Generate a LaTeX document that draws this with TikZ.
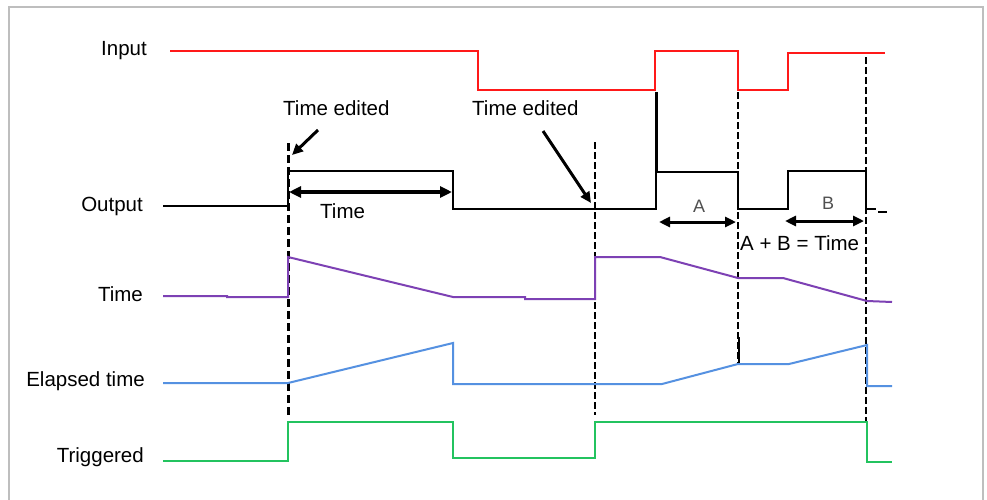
\documentclass[tikz,border=0pt]{standalone}
\usepackage{fontspec}
\setmainfont{Liberation Sans}
\usetikzlibrary{arrows.meta}
\definecolor{sigred}{RGB}{255,25,25}
\definecolor{sigpurple}{RGB}{125,65,180}
\definecolor{sigblue}{RGB}{85,145,225}
\definecolor{siggreen}{RGB}{35,195,95}
\definecolor{framecol}{RGB}{190,190,190}
\definecolor{lettergray}{RGB}{80,80,80}
\tikzset{
  lbl/.style={font=\fontsize{20.5}{24}\selectfont, inner sep=0pt},
  smalllbl/.style={font=\fontsize{18}{21}\selectfont, inner sep=0pt, text=lettergray},
  sig/.style={line width=2pt, line join=miter},
  dashthick/.style={line width=3pt, dash pattern=on 8pt off 4pt},
  dashthin/.style={line width=1.6pt, dash pattern=on 7pt off 3pt},
  editarrow/.style={line width=3pt, -{Triangle[length=11pt,width=10pt]}},
  dblarrow/.style={line width=4.5pt, {Triangle[length=12pt,width=11pt]}-{Triangle[length=12pt,width=11pt]}},
  smallarrow/.style={line width=3pt, {Triangle[length=11pt,width=10pt]}-{Triangle[length=11pt,width=10pt]}},
}
\begin{document}
\begin{tikzpicture}[x=1pt,y=-1pt]
\useasboundingbox (0,0) rectangle (987,499);
\fill[white] (0,0) rectangle (987,499);
\draw[framecol, line width=2pt] (9,502) -- (9,7) -- (983,7) -- (983,502);

% row labels
\node[lbl, anchor=base east] (lin) at (147,55) {Input};
\node[lbl, anchor=base east] (lout) at (143,211) {Output};
\node[lbl, anchor=base east] (ltime) at (143,301) {Time};
\node[lbl, anchor=base east] (lel) at (145,386) {Elapsed time};
\node[lbl, anchor=base east] (ltrig) at (144,462) {Triggered};

% annotations
\node[lbl, anchor=base west] (te1) at (283,115) {Time edited};
\node[lbl, anchor=base west] (te2) at (472,115) {Time edited};
\node[lbl, anchor=base west] (tm) at (320,218) {Time};
\node[lbl, anchor=base west] (ab) at (740,250) {A + B = Time};
\node[smalllbl, anchor=base] (la) at (699,212) {A};
\node[smalllbl, anchor=base] (lb) at (828,209) {B};

% dashed markers
\draw[dashthick] (288,143) -- (288,417);
\draw[dashthin] (595,142) -- (595,415);
\draw[dashthin] (738,92) -- (738,363);
\draw[line width=2.5pt] (739,337) -- (739,363);
\draw[dashthin] (866,57) -- (866,421);

% Input
\draw[sig, sigred] (170,51) -- (478,51) -- (478,90) -- (655,90) -- (655,51)
  -- (738,51) -- (738,90) -- (788,90) -- (788,53) -- (885,53);

% Output
\draw[sig, black] (163,206) -- (288,206) -- (288,171) -- (453,171) -- (453,209)
  -- (656,209) -- (656,172) -- (738,172) -- (738,209) -- (788,209) -- (788,171)
  -- (866,171) -- (866,209) -- (876,209);
\draw[sig, black] (878,211.5) -- (887,211.5);
\draw[line width=3pt] (656,92) -- (656,172);

% Time
\draw[sig, sigpurple] (163,296) -- (227,296) -- (227,297) -- (288,297) -- (288,257)
  -- (453,297) -- (525,297) -- (525,299) -- (595,299) -- (595,257) -- (660,257)
  -- (738,278) -- (783,278) -- (867,301) -- (892,302);

% Elapsed time
\draw[sig, sigblue] (163,383) -- (288,383) -- (453,343) -- (453,384) -- (662,384)
  -- (738,364) -- (789,364) -- (867,345) -- (867,386) -- (892,386);

% Triggered
\draw[sig, siggreen] (163,461) -- (288,461) -- (288,422) -- (453,422) -- (453,458)
  -- (595,458) -- (595,422) -- (867,422) -- (867,462) -- (892,462);

% arrows
\coordinate (e1s) at (318,130);
\coordinate (e1e) at (292,155);
\coordinate (e2s) at (543,131);
\coordinate (e2e) at (591,203);
\draw[editarrow] (e1s) -- (e1e);
\draw[editarrow] (e2s) -- (e2e);

\coordinate (t1) at (289,192);
\coordinate (t2) at (452,192);
\draw[dblarrow] (t1) -- (t2);
\coordinate (a1) at (659,222);
\coordinate (a2) at (736,222);
\draw[smallarrow] (a1) -- (a2);
\coordinate (b1) at (785,221);
\coordinate (b2) at (864,221);
\draw[smallarrow] (b1) -- (b2);
\end{tikzpicture}
\end{document}
